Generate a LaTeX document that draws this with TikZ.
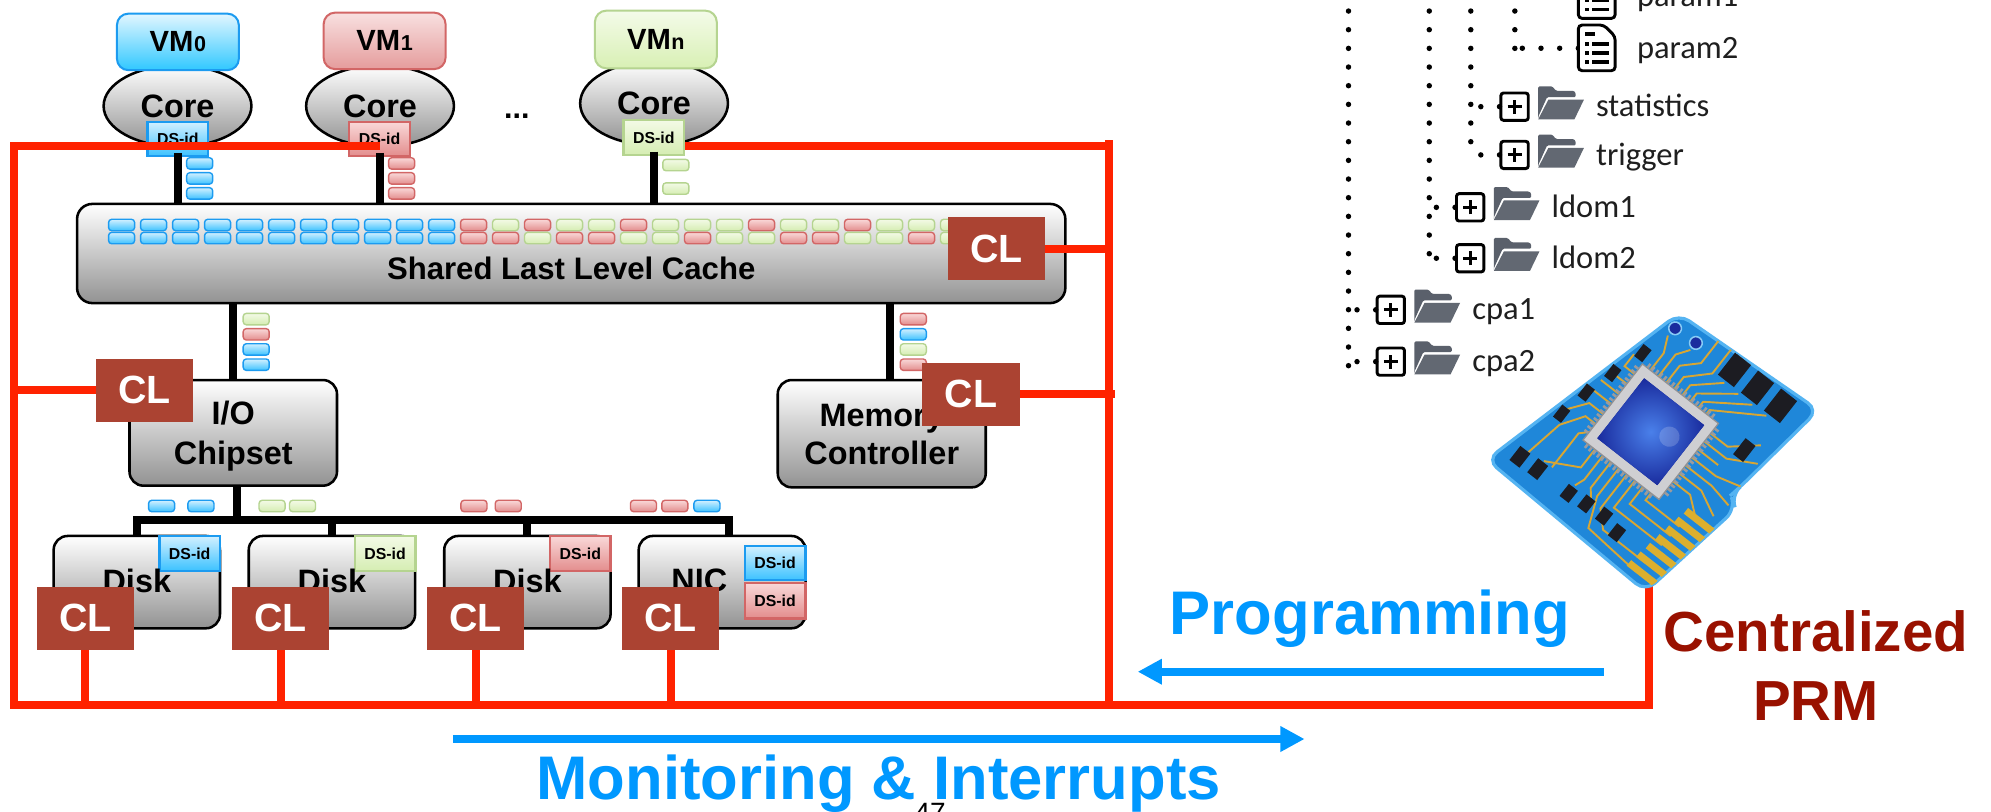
\documentclass[tikz,border=0pt]{standalone}
\usepackage{fontspec}
\setmainfont{Liberation Sans}
\newfontfamily\treefont{Carlito}
\usetikzlibrary{arrows.meta,shapes.geometric}

\definecolor{redline}{HTML}{FF2200}
\definecolor{clbrown}{HTML}{AB4332}
\definecolor{progblue}{HTML}{0098FF}
\definecolor{prmred}{HTML}{991100}
\definecolor{boxgray}{HTML}{929292}
\definecolor{bluetop}{HTML}{D2F0FF}
\definecolor{bluebot}{HTML}{3CC2FF}
\definecolor{blueedge}{HTML}{1C9BF0}
\definecolor{redtop}{HTML}{F9D8D8}
\definecolor{redbot}{HTML}{E38D8D}
\definecolor{rededge}{HTML}{D26666}
\definecolor{greentop}{HTML}{F3FAE6}
\definecolor{greenbot}{HTML}{D5EDB2}
\definecolor{greenedge}{HTML}{B5D490}
\definecolor{vmbluetop}{HTML}{E2F6FF}
\definecolor{vmbluebot}{HTML}{30C8FF}
\definecolor{vmredtop}{HTML}{F8E0E0}
\definecolor{vmredbot}{HTML}{E59C9C}
\definecolor{vmgreentop}{HTML}{F4FBE9}
\definecolor{vmgreenbot}{HTML}{D8F0B4}
\definecolor{foldergray}{HTML}{5A606B}
\definecolor{boardblue}{HTML}{1F87D9}
\definecolor{boardedge}{HTML}{55B4F2}
\definecolor{chipframe}{HTML}{CFCFD2}
\definecolor{chipdark}{HTML}{1A2C9E}
\definecolor{chiplight}{HTML}{4A80EA}
\definecolor{goldcol}{HTML}{D8A633}
\definecolor{compcol}{HTML}{1C1C22}

\tikzset{
  hwbox/.style={draw=black, line width=2pt, rounded corners=11pt, top color=white, bottom color=boxgray, inner sep=0pt},
  coreshape/.style={ellipse, draw=black, line width=2pt, top color=white, bottom color=boxgray, inner sep=0pt,
    minimum width=116.4pt, minimum height=64pt, font=\bfseries\fontsize{25.5}{28}\selectfont},
  vmbox/.style={rounded corners=9pt, line width=1.6pt, inner sep=0pt, minimum width=96pt, minimum height=44.5pt,
    font=\bfseries\fontsize{23}{25}\selectfont},
  vmB/.style={vmbox, draw=blueedge, top color=vmbluetop, bottom color=vmbluebot},
  vmR/.style={vmbox, draw=rededge, top color=vmredtop, bottom color=vmredbot},
  vmG/.style={vmbox, draw=greenedge, top color=vmgreentop, bottom color=vmgreenbot},
  dsbox/.style={line width=1.8pt, inner sep=0pt, minimum width=47.8pt, minimum height=27pt,
    font=\bfseries\fontsize{12.5}{13}\selectfont},
  dsB/.style={dsbox, draw=blueedge, top color=bluetop, bottom color=bluebot},
  dsR/.style={dsbox, draw=rededge, top color=redtop, bottom color=redbot},
  dsG/.style={dsbox, draw=greenedge, top color=greentop, bottom color=greenbot},
  clbox/.style={fill=clbrown, text=white, inner sep=0pt, minimum width=76.5pt, minimum height=49.5pt,
    font=\bfseries\fontsize{31}{31}\selectfont},
  lbl/.style={inner sep=0pt, anchor=base, font=\bfseries\fontsize{25.5}{28}\selectfont},
  wire/.style={draw=black, line width=6.3pt},
  redwire/.style={draw=redline, line width=6.3pt},
  blkB/.style={draw=blueedge, line width=1.1pt, rounded corners=2.5pt, top color=bluetop, bottom color=bluebot},
  blkR/.style={draw=rededge, line width=1.1pt, rounded corners=2.5pt, top color=redtop, bottom color=redbot},
  blkG/.style={draw=greenedge, line width=1.1pt, rounded corners=2.5pt, top color=greentop, bottom color=greenbot},
  bluearrow/.style={draw=progblue, line width=6.6pt, -{Triangle[length=19pt,width=19pt]}},
  bigblue/.style={text=progblue, inner sep=0pt, anchor=base, font=\bfseries\fontsize{48.5}{52}\selectfont},
  prmtext/.style={text=prmred, inner sep=0pt, anchor=base, font=\bfseries\fontsize{44.5}{48}\selectfont},
  tdots/.style={draw=black, line width=4.3pt, line cap=round, dash pattern=on 0pt off 14.7pt},
  plusbox/.style={draw=black, line width=2.3pt, rounded corners=2pt, minimum width=21.5pt, minimum height=21.5pt,
    inner sep=0pt, fill=white,
    path picture={
      \draw[line width=2.3pt] ([xshift=-5.5pt]path picture bounding box.center) -- ([xshift=5.5pt]path picture bounding box.center);
      \draw[line width=2.3pt] ([yshift=-5.5pt]path picture bounding box.center) -- ([yshift=5.5pt]path picture bounding box.center);}},
  treetext/.style={inner sep=0pt, anchor=base west, text=black!88, font=\treefont\fontsize{25.6}{28}\selectfont},
  goldtrace/.style={draw=goldcol, line width=1.5pt},
  folderpic/.pic={
    \fill[foldergray] (0,25) -- (0,2) [rounded corners=1pt] -- (0,0) -- (11,0) -- (14,3.5) -- (28,3.5)
      -- (29.5,5) -- (29.5,8.5) -- (7,8.5) -- (0,24) -- cycle;
    \fill[foldergray!95!white] (8,10.5) -- (36,10.5) -- (28.5,26) -- (0,26) -- cycle;
  },
  docpic/.pic={
    \draw[line width=2.3pt, rounded corners=3pt, fill=white] (0,0) -- (20,0) -- (29,9) -- (29,36) -- (0,36) -- cycle;
    \fill (5,5.5) rectangle (13,9);
    \foreach \yy in {15,22,29} {
      \fill (5,\yy-1.4) rectangle (8.5,\yy+1.4);
      \fill (11,\yy-1.4) rectangle (24,\yy+1.4);
    }
  }
}

% small coloured cache lines
\newcommand\blkB[2]{\path[blkB] (#1,#2) rectangle ++(20.5,9);}
\newcommand\blkR[2]{\path[blkR] (#1,#2) rectangle ++(20.5,9);}
\newcommand\blkG[2]{\path[blkG] (#1,#2) rectangle ++(20.5,9);}
\newcommand\cachecol[3]{%
  \csname blk#2\endcsname{85.5+25.2*#1}{172.7}%
  \csname blk#3\endcsname{85.5+25.2*#1}{183}}

\begin{document}
\begin{tikzpicture}[x=1pt,y=-1pt]
\useasboundingbox (0,0) rectangle (1568,639);
\fill[white] (0,0) rectangle (1568,639);

% ---------- cores with their VMs
\node[coreshape] (core0) at (139.8,83.5) {Core};
\node[coreshape] (core1) at (299.3,83.5) {Core};
\node[coreshape, minimum height=66pt] (coren) at (515.1,81.4) {Core};
\node[vmB] (vm0) at (140.1,33) {VM\kern.5pt{\fontsize{17}{17}\selectfont 0}};
\node[vmR] (vm1) at (302.9,32.2) {VM\kern.5pt{\fontsize{17}{17}\selectfont 1}};
\node[vmG, minimum height=45.4pt] (vmn) at (516.5,31.1) {VM\kern.5pt{\fontsize{17}{17}\selectfont n}};
\node[inner sep=0pt, anchor=base, font=\bfseries\fontsize{24}{24}\selectfont] (dots) at (407,93.7) {...};

\node[dsB] (ds0) at (140,109.5) {DS-id};
\node[dsR] (ds1) at (298.9,109.5) {DS-id};
\node[dsG, minimum height=27.5pt] (dsn) at (514.9,108.3) {DS-id};

% ---------- hardware blocks
\node[hwbox, minimum width=778.3pt, minimum height=78.1pt, rounded corners=12pt] (cache) at (449.85,199.65) {};
\node[hwbox, minimum width=163.4pt, minimum height=83.2pt] (io) at (183.7,340.9) {};
\node[hwbox, minimum width=163.8pt, minimum height=84.5pt] (mem) at (694.4,341.55) {};
\node[hwbox, minimum width=131pt, minimum height=72.7pt] (d0) at (107.75,458.45) {};
\node[hwbox, minimum width=131pt, minimum height=72.7pt] (d1) at (261.4,458.45) {};
\node[hwbox, minimum width=131pt, minimum height=72.7pt] (d2) at (415.35,458.45) {};
\node[hwbox, minimum width=131.4pt, minimum height=72.7pt] (nic) at (568.7,458.45) {};

\node[dsB, minimum height=27.5pt] (dsd0) at (149.4,435.8) {DS-id};
\node[dsG, minimum height=27.5pt] (dsd1) at (303.25,436.1) {DS-id};
\node[dsR, minimum height=27.5pt] (dsd2) at (457,436) {DS-id};
\node[dsB, minimum height=26.8pt] (dsnic0) at (610.4,443.4) {DS-id};
\node[dsR, minimum height=28pt] (dsnic1) at (610.4,473) {DS-id};

\node[lbl] (tcache) at (449.85,220.5) {\fontsize{24.5}{26}\selectfont Shared Last Level Cache};
\node[lbl] (tio1) at (183.7,334.7) {I/O};
\node[lbl] (tio2) at (183.7,366.2) {Chipset};
\node[lbl] (tmem1) at (694.4,336) {Memory};
\node[lbl] (tmem2) at (694.4,366.2) {Controller};
\node[lbl] (td0) at (107.75,467) {Disk};
\node[lbl] (td1) at (261.4,467) {Disk};
\node[lbl] (td2) at (415.35,467) {Disk};
\node[lbl] (tnic) at (550.7,466) {NIC};

% ---------- data paths
\draw[wire] ([yshift=3.5pt]ds0.south) -- (ds0.south |- cache.north);
\draw[wire] ([yshift=3.5pt]ds1.south) -- (ds1.south |- cache.north);
\draw[wire] ([yshift=3.5pt]dsn.south) -- (dsn.south |- cache.north);
\draw[wire] (cache.south -| io.north) -- (io.north);
\coordinate (memtap) at ([xshift=6.8pt]mem.north);
\draw[wire] (cache.south -| memtap) -- (memtap);
\coordinate (busL) at (104.4,409.5);
\coordinate (iotap) at ([xshift=3pt]io.south);
\coordinate (nictap) at ([xshift=5.3pt]nic.north);
\draw[wire] (iotap) -- (iotap |- busL);
\draw[wire] (d0.north) -- (d0.north |- busL) -- (nictap |- busL) -- (nictap);
\draw[wire] (d1.north) -- (d1.north |- busL);
\draw[wire] (d2.north) -- (d2.north |- busL);

% ---------- cache lines in flight
\blkB{147}{124.2}\blkB{147}{136}\blkB{147}{147.8}
\blkR{306}{124.2}\blkR{306}{136}\blkR{306}{147.8}
\blkG{522}{125.5}\blkG{522}{144}
\blkG{191.5}{246.8}\blkR{191.5}{258.8}\blkB{191.5}{270.7}\blkB{191.5}{282.7}
\blkR{709}{246.8}\blkB{709}{258.8}\blkG{709}{270.7}\blkR{709}{282.7}
\blkB{117}{394}\blkB{148}{394}
\blkG{204}{394}\blkG{228}{394}
\blkR{363}{394}\blkR{390}{394}
\blkR{496.5}{394}\blkR{521.2}{394}\blkB{546.5}{394}

% ---------- contents of the shared cache
\foreach \c in {0,...,10} {\cachecol{\c}{B}{B}}
\foreach \c/\u/\l in {11/R/R,12/G/R,13/R/G,14/G/R,15/G/R,16/R/G,17/G/G,18/G/R,
                      19/G/G,20/R/G,21/G/R,22/G/R,23/R/G,24/G/G,25/G/R,26/G/G} {\cachecol{\c}{\u}{\l}}

% ---------- control planes
\node[clbox] (clc) at (784.8,195.8) {CL};
\node[clbox] (clio) at (113.75,307.35) {CL};
\node[clbox] (clm) at (764.65,310.55) {CL};
\node[clbox] (cl0) at (67.3,487) {CL};
\node[clbox] (cl1) at (221.15,487) {CL};
\node[clbox] (cl2) at (374.7,487) {CL};
\node[clbox] (cl3) at (528.05,487) {CL};

% ---------- control network
\coordinate (fTL) at (10.9,115.2);
\coordinate (fBL) at (10.9,555.3);
\coordinate (fTR) at (873,110.3);
\coordinate (fBR) at (873,555.3);
\coordinate (topR) at (876,115.2);
\coordinate (prmtop) at (1298.5,457);
\draw[redwire] (ds1.center |- fTL) -- (fTL) -- (fBL) -- (fBL -| prmtop) -- (prmtop);
\draw[redwire] (dsn.east |- fTL) -- (topR);
\draw[redwire] (fTR) -- (fBR);
\draw[redwire] (clc.east) -- (clc.east -| topR);
\draw[redwire] (clio.west) -- (clio.west -| fTL);
\draw[redwire] (clm.east) -- ([xshift=4.8pt]clm.east -| fTR);
\foreach \n in {cl0,cl1,cl2,cl3} {\draw[redwire] (\n.south) -- (\n.south |- fBL);}

% ---------- programming / monitoring arrows
\coordinate (progR) at (1263,529);
\coordinate (progL) at (896,529);
\draw[bluearrow] (progR) -- (progL);
\coordinate (monL) at (356.6,582);
\coordinate (monR) at (1027.4,582);
\draw[bluearrow] (monL) -- (monR);
\node[bigblue] (tprog) at (1078.9,499.3) {Programming};
\node[bigblue] (tmon) at (692,630) {Monitoring \& Interrupts};
\node[inner sep=0pt, anchor=base west, font=\fontsize{22}{22}\selectfont] (pnum) at (720,648) {47};
\node[prmtext] (tprm1) at (1430,513) {Centralized};
\node[prmtext] (tprm2) at (1430,567.6) {PRM};

% ---------- configuration tree
\coordinate (L1a) at (1062,-6);    \coordinate (L1b) at (1062,289);
\coordinate (L2a) at (1125.6,-6);  \coordinate (L2b) at (1125.6,207);
\coordinate (L3a) at (1158.3,-6);  \coordinate (L3b) at (1158.3,126);
\coordinate (L4a) at (1193,-6);    \coordinate (L4b) at (1193,44);
\draw[tdots] (L1a) -- (L1b);
\draw[tdots] (L2a) -- (L2b);
\draw[tdots] (L3a) -- (L3b);
\draw[tdots] (L4a) -- (L4b);

\foreach \nm/\lname/\bx/\ry/\tx in {cpa1/L1a/1095.3/244/cpa1, cpa2/L1a/1095.3/284.8/cpa2,
    ldom1/L2a/1157.8/163.3/ldom1, ldom2/L2a/1157.8/203.4/ldom2,
    stat/L3a/1192.8/84/statistics, trig/L3a/1192.8/122/trigger} {
  \node[plusbox] (p\nm) at (\bx,\ry) {};
  \draw[tdots] (p\nm.west) -- (p\nm.west -| \lname);
  \pic at ({\bx+18.6},{\ry-16}) {folderpic};
  \node[treetext] (t\nm) at ({\bx+64},{\ry+8}) {\tx};
}
\coordinate (dp1) at (1243,-3);
\coordinate (dp2) at (1243,38);
\draw[tdots] (dp1) -- (dp1 -| L4a);
\draw[tdots] (dp2) -- (dp2 -| L4a);
\pic at (1243,-21.5) {docpic};
\pic at (1243,19.7) {docpic};
\node[treetext] (tparam1) at (1289,5) {param1};
\node[treetext] (tparam2) at (1289,46) {param2};

% ---------- the PRM controller board
\fill[boardblue, draw=boardedge, line width=2.5pt, rounded corners=10pt]
  (1322,247) -- (1432,323) -- (1370,384) -- (1363,390) -- (1367,401) -- (1296,466) -- (1171,362) -- cycle;
\begin{scope}
  \clip[rounded corners=10pt]
    (1322,247) -- (1432,323) -- (1370,384) -- (1363,390) -- (1367,401) -- (1296,466) -- (1171,362) -- cycle;
  \begin{scope}[shift={(1300,340)}, rotate=-38]
    % copper traces
    \draw[goldtrace] (-30,-38) -- (-30,-55) -- (-36,-68);
    \draw[goldtrace] (-22,-38) -- (-22,-60) -- (-15,-70);
    \draw[goldtrace] (-14,-38) -- (-14,-55) -- (-2,-67) -- (-2,-90);
    \draw[goldtrace] (-6,-38) -- (-6,-50) -- (10,-66) -- (10,-92);
    \draw[goldtrace] (2,-38) -- (2,-48) -- (22,-66);
    \draw[goldtrace] (10,-38) -- (10,-46) -- (36,-66);
    \draw[goldtrace] (18,-38) -- (18,-44) -- (50,-66);
    \draw[goldtrace] (26,-38) -- (26,-42) -- (64,-66);
    \draw[goldtrace] (38,-28) -- (55,-28) -- (75,-45);
    \draw[goldtrace] (38,-20) -- (60,-20) -- (82,-32);
    \draw[goldtrace] (38,-12) -- (58,-12);
    \draw[goldtrace] (38,-4) -- (62,-4) -- (84,-10);
    \draw[goldtrace] (38,4) -- (64,4) -- (84,8);
    \draw[goldtrace] (38,12) -- (60,12) -- (80,22);
    \draw[goldtrace] (38,20) -- (55,20) -- (70,32);
    \draw[goldtrace] (30,38) -- (30,45) -- (64,45);
    \draw[goldtrace] (22,38) -- (22,55) -- (63,55);
    \draw[goldtrace] (14,38) -- (14,65) -- (62,65);
    \draw[goldtrace] (6,38) -- (6,72) -- (18,84) -- (60,84);
    \draw[goldtrace] (-2,38) -- (-2,66) -- (8,90) -- (58,94);
    \draw[goldtrace] (-10,38) -- (-10,64) -- (-5,70);
    \draw[goldtrace] (-18,38) -- (-18,62) -- (-21,70);
    \draw[goldtrace] (-26,38) -- (-26,56) -- (-52,70);
    \draw[goldtrace] (-38,-28) -- (-48,-28) -- (-48,-40);
    \draw[goldtrace] (-38,-18) -- (-52,-18);
    \draw[goldtrace] (-38,-8) -- (-56,-8);
    \draw[goldtrace] (-38,2) -- (-58,2) -- (-59,8);
    \draw[goldtrace] (-38,12) -- (-52,12) -- (-64,28);
    \draw[goldtrace] (-38,22) -- (-48,22) -- (-60,40) -- (-66,72);
    \draw[goldtrace] (-38,30) -- (-44,36) -- (-44,70);
    % edge connector pins
    \foreach \y in {32,42,...,92} {
      \pgfmathsetmacro{\xe}{90.4-(\y-6.8)*0.168}
      \fill[goldcol!90!yellow] ({\xe-26},{\y-2.8}) rectangle ({\xe+3},{\y+2.8});
    }
    % surface mounted parts
    \foreach \x in {22,45,68} {\fill[compcol] (\x-8,-90) rectangle (\x+8,-68);}
    \foreach \x/\y in {-43/-45,-52/-18,-59/7,-64/32} {\fill[compcol] (\x-4,\y-6) rectangle (\x+4,\y+6);}
    \foreach \x/\y in {-69/79,-52/78} {\fill[compcol] (\x-5,\y-7) rectangle (\x+5,\y+7);}
    \foreach \x/\y in {-21/78,-5/76,12/75,28/79} {\fill[compcol] (\x-4.5,\y-6) rectangle (\x+4.5,\y+6);}
    \fill[compcol] (62,-42) rectangle (72,-26);
    \foreach \x/\y in {-35/-76,-15/-77} {\fill[chipdark, draw=boardedge!70!white, line width=1.2pt] (\x,\y) circle (5);}
    % processor package
    \foreach \t in {-33,-29,...,33} {
      \fill[chipframe!75!black] (\t-1,-42) rectangle (\t+1,-38);
      \fill[chipframe!75!black] (\t-1,38) rectangle (\t+1,42);
      \fill[chipframe!75!black] (-42,\t-1) rectangle (-38,\t+1);
      \fill[chipframe!75!black] (38,\t-1) rectangle (42,\t+1);
    }
    \fill[chipframe, draw=chipframe!70!black, line width=1pt] (-38,-38) rectangle (38,38);
    \fill[chipdark] (-30,-30) rectangle (30,30);
    \shade[inner color=chiplight, outer color=chipdark] (-30,-30) rectangle (30,30);
    \fill[white, opacity=0.18] (14,-6) circle (8);
  \end{scope}
\end{scope}

\end{tikzpicture}
\end{document}
